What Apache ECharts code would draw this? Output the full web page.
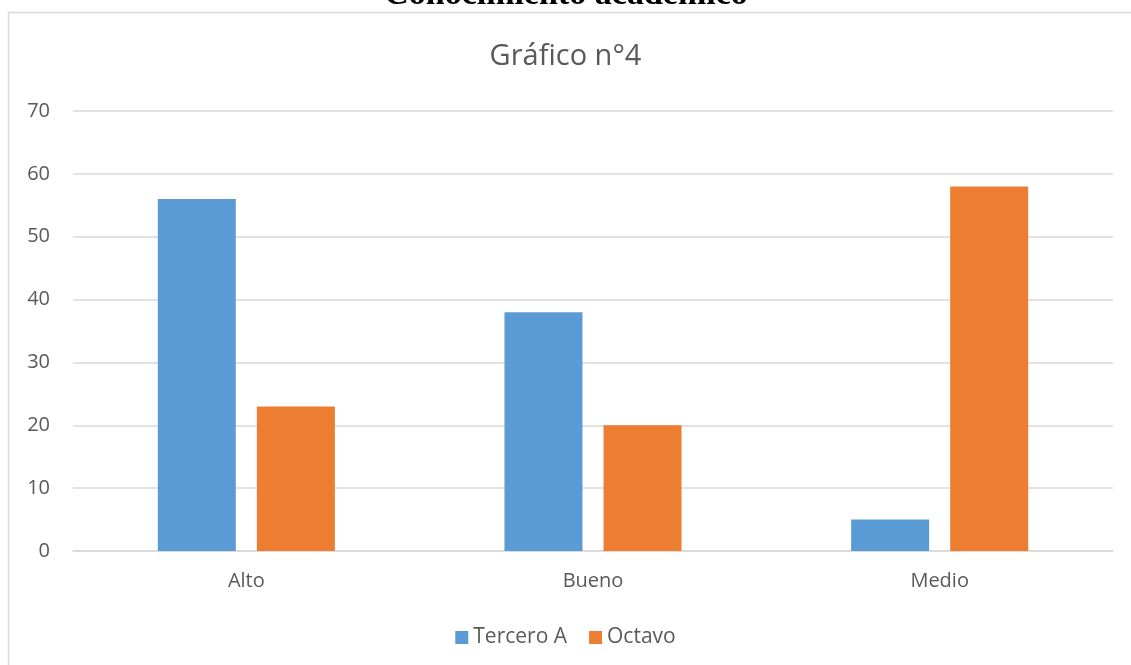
<!DOCTYPE html>
<html><head><meta charset="utf-8">
<script src="https://cdn.jsdelivr.net/npm/echarts@6/dist/echarts.min.js"></script>
<style>html,body{margin:0;padding:0;background:#fff}#c{width:1131px;height:665px}</style>
</head><body><div id="c"></div>
<script>
const categories = ['Alto', 'Bueno', 'Medio'];
const seriesNames = ['Tercero A', 'Octavo'];
const terceroA = [56, 38, 5];
const octavo = [23, 20, 58];
const yTicks = { min: 0, max: 70, interval: 10 };

const chart = echarts.init(document.getElementById('c'), null, { renderer: 'canvas' });
const font = 'Open Sans, Noto Sans, sans-serif';
chart.setOption({
  backgroundColor: '#fff',
  animation: false,
  title: {
    text: 'Gráfico n°4', left: 'center', top: 37,
    textStyle: { fontFamily: font, fontSize: 29, fontWeight: 'normal', color: '#595959' }
  },
  graphic: [
    { type: 'line', shape: { x1: 8, y1: 12.5, x2: 1131, y2: 12.5 }, style: { stroke: '#d9d9d9', lineWidth: 1.5 } },
    { type: 'line', shape: { x1: 8.5, y1: 12, x2: 8.5, y2: 665 }, style: { stroke: '#d9d9d9', lineWidth: 1.5 } },
    { type: 'text', x: 566, y: 12, style: { text: 'Conocimiento académico', font: 'bold 34px "Liberation Serif", serif', fill: '#000', align: 'center', verticalAlign: 'bottom' } }
  ],
  legend: {
    data: seriesNames, top: 622, left: 'center', itemWidth: 13, itemHeight: 13, itemGap: 22,
    icon: 'rect',
    textStyle: { fontFamily: font, fontSize: 21, color: '#595959' }
  },
  grid: { left: 73, right: 18, top: 111, bottom: 114, containLabel: false },
  xAxis: {
    type: 'category', data: categories,
    axisLine: { lineStyle: { color: '#d9d9d9', width: 1.5 } },
    axisTick: { show: false },
    axisLabel: { fontFamily: font, fontSize: 20, color: '#595959', margin: 20 }
  },
  yAxis: {
    type: 'value', min: yTicks.min, max: yTicks.max, interval: yTicks.interval,
    axisLine: { show: false }, axisTick: { show: false },
    splitLine: { lineStyle: { color: '#d9d9d9', width: 1.5 } },
    axisLabel: { fontFamily: font, fontSize: 20, color: '#595959', margin: 23 }
  },
  series: [
    { name: seriesNames[0], type: 'bar', data: terceroA, barWidth: '22.5%', barGap: '27%', itemStyle: { color: '#5b9bd5' } },
    { name: seriesNames[1], type: 'bar', data: octavo, barWidth: '22.5%', barGap: '27%', itemStyle: { color: '#ed7d31' } }
  ]
});
</script></body></html>
